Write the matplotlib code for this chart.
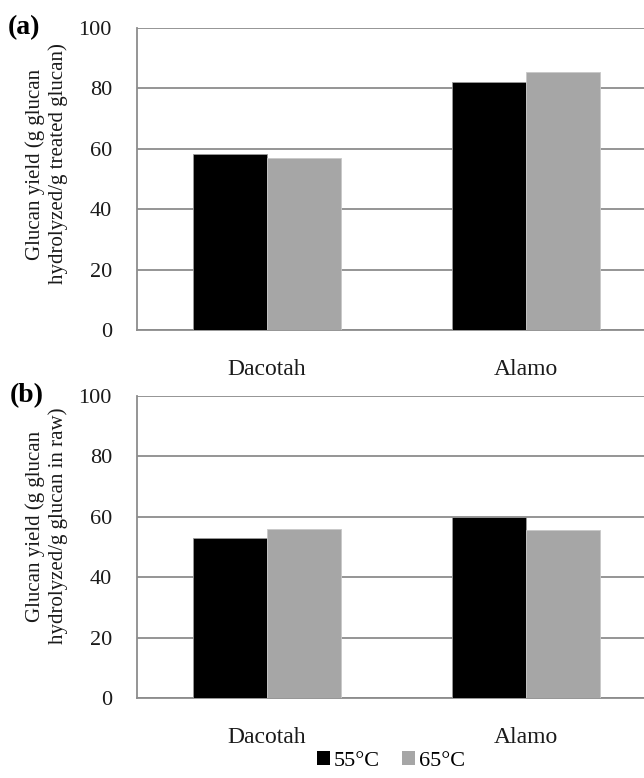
import matplotlib
matplotlib.use('Agg')
import matplotlib.pyplot as plt
import numpy as np
from matplotlib.patches import Patch

plt.rcParams['font.family'] = ['Liberation Serif', 'DejaVu Serif']

varieties = ['Dacotah', 'Alamo']
temps = ['55°C', '65°C']
# glucan yield, g glucan hydrolyzed per g treated glucan
yield_treated_55 = [58.4, 82.2]
yield_treated_65 = [57.1, 85.5]
# glucan yield, g glucan hydrolyzed per g glucan in raw
yield_raw_55 = [52.9, 60.1]
yield_raw_65 = [56.0, 55.5]
yticks = [0, 20, 40, 60, 80, 100]

bar_colors = ['#000000', '#a6a6a6']
grid_color = '#8c8c8c'

fig = plt.figure(figsize=(6.44, 7.78), dpi=100)
ax_a = fig.add_axes([0.2127, 0.5758, 0.806, 0.3882])
ax_b = fig.add_axes([0.2127, 0.1028, 0.806, 0.3882])

x = np.arange(len(varieties))
w = 0.285

for ax, s55, s65 in [(ax_a, yield_treated_55, yield_treated_65),
                     (ax_b, yield_raw_55, yield_raw_65)]:
    ax.bar(x - w / 2, s55, w, color=bar_colors[0], edgecolor='#9a9a9a', linewidth=0.6, zorder=3)
    ax.bar(x + w / 2, s65, w, color=bar_colors[1], edgecolor='#c8c8c8', linewidth=0.6, zorder=3)
    ax.set_xlim(-0.5, 1.5)
    ax.set_ylim(0, 100)
    ax.set_yticks(yticks)
    ax.set_xticks(x)
    ax.set_xticklabels(varieties, fontsize=17)
    ax.tick_params(axis='y', length=0, pad=18, labelsize=16, colors='#1a1a1a')
    ax.tick_params(axis='x', length=0, pad=21, colors='#1a1a1a')
    ax.yaxis.grid(True, color=grid_color, linewidth=1.3, zorder=0)
    ax.set_axisbelow(True)
    for side in ['top', 'right']:
        ax.spines[side].set_visible(False)
    for side in ['left', 'bottom']:
        ax.spines[side].set_color(grid_color)
        ax.spines[side].set_linewidth(1.3)

# panel letters
fig.text(0.012, 0.965, '(a)', fontsize=20, fontweight='bold', va='center', ha='left')
fig.text(0.015, 0.492, '(b)', fontsize=20, fontweight='bold', va='center', ha='left')

# y-axis titles
fig.text(0.072, 1 - 164 / 778, 'Glucan yield (g glucan\nhydrolyzed/g treated glucan)',
         rotation=90, fontsize=15, ha='center', va='center', linespacing=1.22, color='#1a1a1a')
fig.text(0.072, 1 - 526 / 778, 'Glucan yield (g glucan\nhydrolyzed/g glucan in raw)',
         rotation=90, fontsize=15, ha='center', va='center', linespacing=1.22, color='#1a1a1a')

handles = [Patch(facecolor=c, edgecolor='none') for c in bar_colors]
fig.legend(handles, temps, loc='center', bbox_to_anchor=(0.607, 0.022), ncol=2,
           frameon=False, fontsize=16, handlelength=0.6, handleheight=0.6,
           handletextpad=0.15, columnspacing=1.0, borderaxespad=0)

fig.savefig('out.png', dpi=100)
